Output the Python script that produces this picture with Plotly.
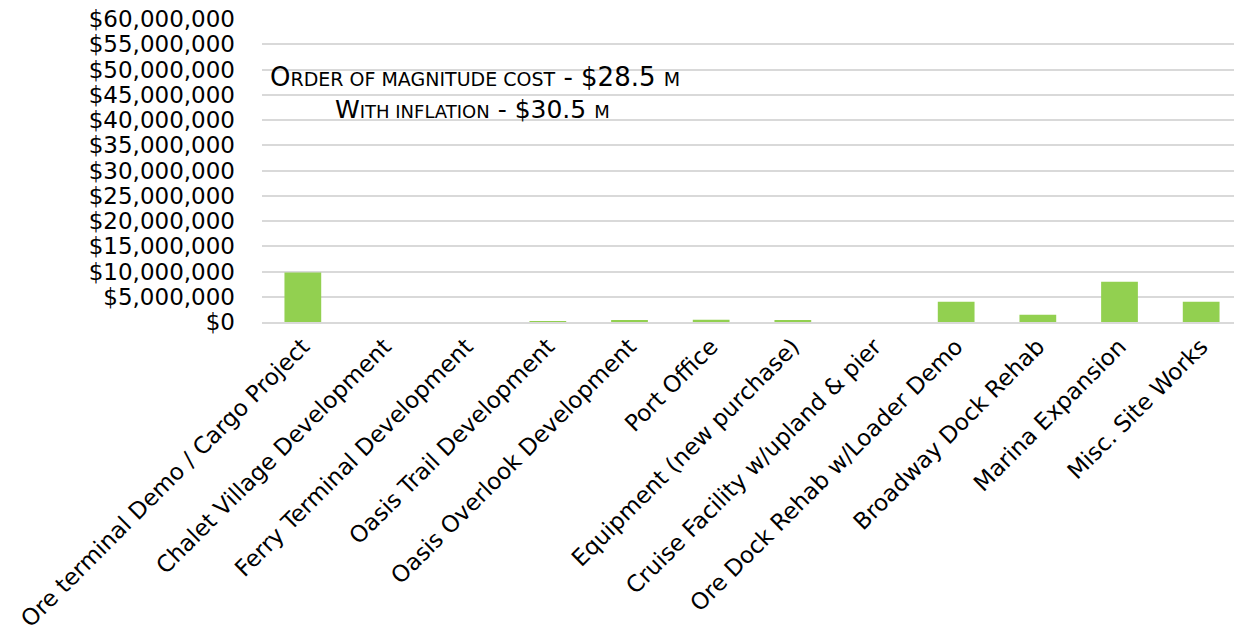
import plotly.graph_objects as go

categories = [
    "Ore terminal Demo / Cargo Project",
    "Chalet Village Development",
    "Ferry Terminal Development",
    "Oasis Trail Development",
    "Oasis Overlook Development",
    "Port Office",
    "Equipment (new purchase)",
    "Cruise Facility w/upland & pier",
    "Ore Dock Rehab w/Loader Demo",
    "Broadway Dock Rehab",
    "Marina Expansion",
    "Misc. Site Works",
]
costs = [9800000, 0, 0, 150000, 200000, 450000, 200000, 0, 4000000, 1450000, 7950000, 4000000]
y_ticks = list(range(0, 60000001, 5000000))
y_labels = ["${:,}".format(v) for v in y_ticks]

FONT = "DejaVu Sans"

# page has an 8px body margin; figure coordinates are offset by it
W, H = 1234, 636
L, T, B = 254, 11, 322
PH = H - T - B

fig = go.Figure(go.Bar(
    x=categories, y=costs,
    marker=dict(color="#92D050", line=dict(width=0)),
))

fig.update_layout(
    width=W, height=H,
    margin=dict(l=L, r=0, t=T, b=B, autoexpand=False),
    paper_bgcolor="white", plot_bgcolor="white",
    bargap=0.55,
    showlegend=False,
    font=dict(family=FONT, color="#000000"),
)
fig.update_yaxes(
    range=[0, 60000000], tickvals=y_ticks, ticktext=y_labels,
    showgrid=True, gridcolor="#d9d9d9", gridwidth=1.5,
    zeroline=False, showline=False, automargin=False,
    tickfont=dict(family=FONT, size=23, color="#000"),
    ticklabelstandoff=26, ticklabeloverflow="allow",
)
fig.update_xaxes(
    tickangle=-45, tickfont=dict(family=FONT, size=23, color="#000"),
    showline=True, linecolor="#d9d9d9", linewidth=2,
    showgrid=False, ticks="", automargin=False,
)

def px(xp):
    return (xp - 8 - L) / (W - L)

def py(yp):
    return (T + PH - (yp - 8)) / PH

fig.add_annotation(
    xref="paper", yref="paper", x=px(475), y=py(77),
    text="O<span style='font-size:19px'>RDER OF MAGNITUDE COST</span> - $28.5 <span style='font-size:19px'>M</span>",
    showarrow=False, font=dict(family=FONT, size=26, color="#000"),
    xanchor="center", yanchor="middle",
)
fig.add_annotation(
    xref="paper", yref="paper", x=px(472), y=py(109),
    text="W<span style='font-size:18px'>ITH INFLATION</span> - $30.5 <span style='font-size:18px'>M</span>",
    showarrow=False, font=dict(family=FONT, size=25, color="#000"),
    xanchor="center", yanchor="middle",
)

fig.write_html("out.html")
